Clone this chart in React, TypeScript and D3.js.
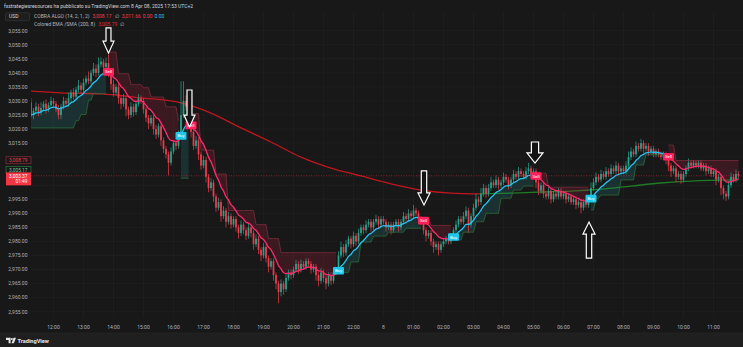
import React from 'react';
import * as d3 from 'd3';

const W = 743;
const H = 347;

// ---- candle data (5-minute bars, 11:15 -> 11:50 next day) ----
const open0 = 3029.5;
const closes = [
  3025, 3026.5, 3028, 3026, 3027.5, 3029, 3027, 3028.5, 3030, 3029, 3027, 3025,
  3028, 3030, 3029, 3031, 3033, 3031.5, 3034, 3035.5, 3034, 3036.5, 3038, 3037,
  3040, 3041.5, 3040, 3043, 3044, 3042, 3043.5, 3040, 3036, 3033, 3035, 3031,
  3029, 3031, 3027, 3025, 3028, 3026, 3029, 3031, 3030, 3027, 3024, 3022,
  3024, 3020, 3018, 3021, 3016, 3013, 3011, 3008, 3012, 3015, 3014, 3018,
  3025, 3030, 3028, 3024, 3019, 3014, 3016, 3011, 3007, 3009, 3003, 2999,
  3001, 2996, 2992, 2994, 2989, 2991, 2987, 2989, 2986, 2988, 2985, 2983,
  2986, 2984, 2982, 2985, 2983, 2979, 2981, 2977, 2975, 2978, 2974, 2971,
  2973, 2968, 2965, 2962, 2965, 2963, 2967, 2969, 2968, 2970, 2972, 2970,
  2972, 2971, 2973, 2972, 2970, 2971, 2968, 2966, 2969, 2967, 2965, 2968,
  2966, 2969, 2970, 2975, 2978, 2976, 2979, 2981, 2979, 2982, 2980, 2983,
  2985, 2984, 2986, 2987, 2985, 2987, 2988, 2986, 2988, 2987, 2985, 2986,
  2984, 2986, 2987, 2985, 2987, 2989, 2988, 2990, 2989, 2991, 2990, 2988,
  2987, 2984, 2982, 2983, 2980, 2978, 2979, 2977, 2979, 2980, 2981, 2980,
  2982, 2984, 2986, 2988, 2987, 2989, 2991, 2986, 2989, 2992, 2995, 2994,
  2997, 2999, 2997, 2999, 3001, 3000, 3002, 3000, 3001, 3003, 3002, 3000,
  3002, 3004, 3003, 3005, 3004, 3003, 3005, 3006, 3004, 3005, 3001, 2998,
  3000, 2997, 2996, 2998, 2995, 2997, 2996, 2998, 2996, 2997, 2995, 2996,
  2994, 2995, 2993, 2994, 2992, 2994, 2993, 2995, 2999, 3001, 3003, 3002,
  3004, 3003, 3005, 3004, 3006, 3005, 3007, 3005, 3006, 3005, 3007, 3010,
  3012, 3011, 3014, 3013, 3015, 3013, 3014, 3012, 3013, 3011, 3012, 3011,
  3010, 3011, 3009, 3007, 3005, 3006, 3003, 3004, 3002, 3004, 3006, 3008,
  3007, 3008, 3007, 3008, 3006, 3007, 3005, 3006, 3004, 3005, 3002, 3003,
  2999, 2997, 2996, 3000, 3003, 3002, 3004, 3003.37,
];
const wickHi = [
  1.5, 1, 1.5, 1, 2, 1, 1.5, 1, 1.5, 1, 1, 1.5,
  1, 1.5, 1, 2, 1, 1.5, 1, 2, 1, 1.5, 1, 2.5,
  1, 2, 1.5, 2.5, 1.5, 1, 2, 3, 1, 1.5, 1, 1.5,
  1, 1.5, 1, 1, 1.5, 1, 1, 1.5, 1, 1, 1, 1,
  1, 1, 1.5, 1, 1, 1, 1, 1, 1.5, 1, 1, 1.5,
  12, 7, 2, 1.5, 1, 1, 1.5, 1, 1, 1.5, 1, 1,
  1.5, 1, 1, 1.5, 1, 1.5, 1, 1.5, 1, 1, 1, 1,
  1.5, 1, 1, 1.5, 1, 1, 1.5, 1, 1, 1.5, 1, 1,
  1, 1, 1, 1, 1.5, 1, 1.5, 1, 1, 1, 1.5, 1,
  1.5, 1, 1, 1, 1, 1, 1, 1, 1.5, 1, 1, 1,
  1, 1, 1, 1.5, 2, 1, 1.5, 1, 1, 1.5, 1, 1.5,
  1, 1, 1.5, 1, 1, 1, 1.5, 1, 1, 1, 1, 1,
  1, 1, 1, 1, 1, 1.5, 1, 1.5, 1, 2, 1, 1,
  1, 1, 1, 1, 1, 1, 1, 1, 1, 1, 1, 1,
  1, 1, 1.5, 1, 1, 1.5, 1.5, 1, 1, 1.5, 2, 1,
  2, 1.5, 1, 1.5, 2, 1, 1.5, 1, 1, 1.5, 1, 1,
  1, 1.5, 1, 1.5, 1, 1, 1.5, 2, 1, 1, 1, 1,
  1, 1, 1, 1.5, 1, 1, 1, 1, 1, 1, 1, 1,
  1, 1, 1, 1, 1, 1, 1, 1, 2, 1.5, 1.5, 1,
  1.5, 1, 1.5, 1, 1.5, 1, 1.5, 1, 1, 1, 1.5, 2,
  1.5, 1, 1.5, 1, 1.5, 1, 1, 1, 1, 1, 1, 1,
  1, 1, 1, 1, 1, 1, 1, 1, 1, 1, 1, 1.5,
  1, 1, 1, 1, 1, 1, 1, 1, 1, 1, 1, 1,
  1, 1, 1, 1.5, 1.5, 1, 1.5, 1,
];
const wickLo = [
  1, 1.5, 1, 1.5, 1, 1, 1.5, 1, 1, 1.5, 1, 1.5,
  1.5, 1, 1, 1, 1.5, 1, 1, 1, 1.5, 1, 1, 1,
  1, 1, 1.5, 1, 1, 1.5, 1, 1.5, 2, 1.5, 1, 2,
  2, 1, 2.5, 1.5, 1, 1.5, 1, 1, 1, 1.5, 1.5, 2,
  1, 2, 1.5, 1, 2, 1.5, 1.5, 4.5, 1, 1, 1.5, 1,
  1, 1, 1.5, 1.5, 2, 1.5, 1, 2, 1.5, 1, 2, 1.5,
  1, 2, 1.5, 1, 2, 1, 2, 1, 1.5, 1, 1.5, 2,
  1, 1.5, 1.5, 1, 1.5, 2, 1, 1.5, 2, 1, 1.5, 2,
  1, 2, 2, 4, 1.5, 2, 1, 1, 1.5, 1, 1, 1.5,
  1, 1, 1, 1, 1.5, 1, 2, 2, 1, 1.5, 2, 1,
  1.5, 1, 1, 1, 1, 1.5, 1, 1, 1.5, 1, 1.5, 1,
  1, 1.5, 1, 1, 1.5, 1, 1, 1.5, 1, 1, 1.5, 1,
  1.5, 1, 1, 1.5, 1, 1, 1, 1, 1, 1, 1, 1.5,
  1, 1.5, 2, 1, 1.5, 2, 1, 2, 1, 1, 1, 1,
  1, 1, 1, 1, 1, 1, 1, 3, 1, 1, 1, 1.5,
  1, 1, 1.5, 1, 1, 1, 1, 1.5, 1, 1, 1, 1.5,
  1, 1, 1, 1, 1, 1, 1, 1, 1.5, 1, 2, 1.5,
  1, 1.5, 1, 1, 1.5, 1, 1, 1, 1, 1, 1.5, 1,
  1, 1, 1.5, 1, 2, 1, 1, 1, 1, 1, 1, 1,
  1, 1, 1, 1, 1, 1, 1, 1, 1, 1, 1, 1,
  1, 1, 1, 1, 1, 1.5, 1, 1.5, 1, 1, 1, 1,
  1, 1, 1.5, 2, 2, 1, 2, 1, 1.5, 1, 1, 1,
  1, 1, 1, 1, 1, 1, 1.5, 1, 1, 1, 2, 1,
  2.5, 2, 1.5, 1, 1, 1, 1, 1,
];

// ---- COBRA ALGO trend states and trailing bands ----
const segStart = [0, 31, 60, 64, 123, 157, 169, 202, 224, 255];
const segDir = ['bull', 'bear', 'bull', 'bear', 'bull', 'bear', 'bull', 'bear', 'bull', 'bear'];
const bandBars = [
  0, 18, 20, 23, 25,
  31, 35, 40, 45, 48, 54, 59,
  60,
  64, 68, 74, 79, 90, 95, 100,
  123, 128, 132, 137, 143, 150,
  157, 160,
  169, 173, 178, 182, 188, 193, 197,
  202, 207,
  224, 226, 228, 236, 242, 246,
  255, 258,
];
const bandVals = [
  3020.4, 3023, 3025.2, 3030.3, 3032.6,
  3047.4, 3039.7, 3035.8, 3034.7, 3031.4, 3027.9, 3023,
  3002.5,
  3025.5, 3012.5, 3004, 2991, 2986, 2981, 2976,
  2969, 2972.7, 2979.8, 2981.9, 2983.3, 2984.7,
  2988.5, 2985.7,
  2980.5, 2983.3, 2987, 2990, 2995.4, 2998.3, 2999.7,
  3004.3, 2999.3,
  2991.2, 2995.4, 2996.5, 3001.9, 3007.2, 3010.8,
  3014.3, 3008.79,
];
const linePeriod = 10;
const sellBars = [31, 64, 157, 202, 255];
const buyBars = [60, 123, 169, 224];

// ---- Colored EMA/SMA (200) ----
const emaBars = [0, 12, 28, 44, 60, 72, 84, 96, 108, 120, 132, 144, 156, 168, 180, 192, 204, 216, 228, 240, 252, 264, 283];
const emaVals = [3033.5, 3032.9, 3032.5, 3031.1, 3029.3, 3025.7, 3020.4, 3015.4, 3010, 3006.1, 3003.3, 3000.5, 2998.3, 2997.2, 2996.9, 2997.2, 2997.6, 2997.9, 2998.6, 2999.7, 3000.8, 3001.5, 3001.9];
const emaTurnBar = 180;

// ---- annotation arrows ----
const arrowBars = [31, 63.4, 157.2, 201.6, 223.2];
const arrowTail = [3056, 3033.9, 3005.1, 3015.4, 2974.1];
const arrowTip = [3047, 3020.7, 2993, 3007.9, 2986.9];
const arrowWidth = [11, 11, 12, 16, 12];

// ---- axes ----
const priceTicks = [3055, 3050, 3045, 3040, 3035, 3030, 3025, 3020, 3015, 3010, 3005, 3000, 2995, 2990, 2985, 2980, 2975, 2970, 2965, 2960, 2955];
const hiddenPriceTicks = [3010, 3005, 3000];
const timeLabels = ['12:00', '13:00', '14:00', '15:00', '16:00', '17:00', '18:00', '19:00', '20:00', '21:00', '22:00', '8', '01:00', '02:00', '03:00', '04:00', '05:00', '06:00', '07:00', '08:00', '09:00', '10:00', '11:00'];
const timeBars = [9, 21, 33, 45, 57, 69, 81, 93, 105, 117, 129, 141, 153, 165, 177, 189, 201, 213, 225, 237, 249, 261, 273];

const lastPrice = 3003.37;
const bandLast = 3008.79;
const lineLast = 3005.17;

const FONT = "Roboto, 'Liberation Sans', Arial, sans-serif";
const UP = '#22a68f';
const DOWN = '#f23a4b';
const BULL_LINE = '#29c3f2';
const BEAR_LINE = '#ff2a6d';

export default function App() {
  const n = closes.length;
  const x = d3.scaleLinear().domain([0, n - 1]).range([31, 738.5]);
  const y = d3.scaleLinear().domain([2955, 3055]).range([311.7, 30.7]);
  const fmt = d3.format(',.2f');

  const bars = closes.map((c, i) => {
    const o = i === 0 ? open0 : closes[i - 1];
    return { i, o, c, h: Math.max(o, c) + wickHi[i], l: Math.min(o, c) - wickLo[i] };
  });

  // EMA trend line of closes
  const k = 2 / (linePeriod + 1);
  const line: number[] = [];
  closes.forEach((c, i) => {
    line.push(i === 0 ? c : c * k + line[i - 1] * (1 - k));
  });

  // stepped band lookup
  const band = closes.map((_, i) => {
    let v = bandVals[0];
    for (let j = 0; j < bandBars.length; j++) if (bandBars[j] <= i) v = bandVals[j];
    return v;
  });

  const segs = segStart.map((s, j) => ({
    start: s,
    end: j < segStart.length - 1 ? segStart[j + 1] - 1 : n - 1,
    dir: segDir[j],
  }));

  const area = d3
    .area<number>()
    .x((i) => x(i))
    .y0((i) => y(band[i]))
    .y1((i) => y(line[i]));
  const bandLine = d3
    .line<number>()
    .x((i) => x(i))
    .y((i) => y(band[i]));
  const trendLine = d3
    .line<number>()
    .x((i) => x(i))
    .y((i) => y(line[i]))
    .curve(d3.curveMonotoneX);

  const emaPts = emaBars.map((b, j) => [b, emaVals[j]] as [number, number]);
  const turnIdx = emaBars.indexOf(emaTurnBar);
  const emaLine = d3
    .line<[number, number]>()
    .x((d) => x(d[0]))
    .y((d) => y(d[1]))
    .curve(d3.curveMonotoneX);

  const arrowPath = (j: number) => {
    const cx = x(arrowBars[j]);
    const yt = y(arrowTail[j]);
    const yp = y(arrowTip[j]);
    const hw = arrowWidth[j];
    const sw = hw * 0.45;
    const len = Math.abs(yp - yt);
    const hh = Math.min(12, len * 0.48) * (yp > yt ? 1 : -1);
    return `M${cx - sw / 2},${yt} L${cx + sw / 2},${yt} L${cx + sw / 2},${yp - hh} L${cx + hw / 2},${yp - hh} L${cx},${yp} L${cx - hw / 2},${yp - hh} L${cx - sw / 2},${yp - hh} Z`;
  };

  const chartTop = 12;
  const chartBottom = 318;

  return (
    <svg
      width={W}
      height={H}
      style={{ position: 'fixed', left: 0, top: 0, display: 'block' }}
      fontFamily={FONT}
    >
      <defs>
        <clipPath id="plot">
          <rect x={31} y={chartTop} width={W - 31} height={chartBottom - chartTop} />
        </clipPath>
      </defs>
      <rect x={0} y={0} width={W} height={H} fill="#181818" />
      <rect x={0} y={333} width={W} height={14} fill="#1f1f1f" />
      <line x1={0} x2={W} y1={333} y2={333} stroke="#2a2a2a" strokeWidth={0.6} />

      {/* grid */}
      <g stroke="#222222" strokeWidth={0.6}>
        {priceTicks.map((p) => (
          <line key={'h' + p} x1={31} x2={W} y1={y(p)} y2={y(p)} />
        ))}
        {timeBars.map((b) => (
          <line key={'v' + b} x1={x(b)} x2={x(b)} y1={chartTop} y2={chartBottom} />
        ))}
      </g>

      <g clipPath="url(#plot)">
        {/* EMA 200 */}
        <path d={emaLine(emaPts.slice(0, turnIdx + 1)) || ''} fill="none" stroke="#c0161d" strokeWidth={1.3} />
        <path d={emaLine(emaPts.slice(turnIdx)) || ''} fill="none" stroke="#1f7a25" strokeWidth={1.3} />

        {/* band fills */}
        {segs.map((s, j) => {
          const idx = d3.range(s.start, s.end + 1);
          return (
            <path
              key={'f' + j}
              d={area(idx) || ''}
              fill={s.dir === 'bull' ? 'rgba(40,150,150,0.2)' : 'rgba(170,30,60,0.24)'}
            />
          );
        })}

        {/* candles */}
        {bars.map((b) => {
          const col = b.c >= b.o ? UP : DOWN;
          const cx = x(b.i);
          const top = y(Math.max(b.o, b.c));
          const bot = y(Math.min(b.o, b.c));
          return (
            <g key={'c' + b.i}>
              <line x1={cx} x2={cx} y1={y(b.h)} y2={y(b.l)} stroke={col} strokeWidth={0.7} />
              <rect x={cx - 0.85} y={top} width={1.7} height={Math.max(0.7, bot - top)} fill={col} />
            </g>
          );
        })}

        {/* band outlines */}
        {segs.map((s, j) => {
          const idx = d3.range(s.start, s.end + 1);
          return (
            <path
              key={'b' + j}
              d={bandLine(idx) || ''}
              fill="none"
              stroke={s.dir === 'bull' ? '#2f6a3a' : '#7b2f3c'}
              strokeWidth={0.8}
            />
          );
        })}

        {/* trend line */}
        {segs.map((s, j) => {
          const idx = d3.range(s.start, Math.min(n - 1, s.end + 1) + 1);
          return (
            <path
              key={'t' + j}
              d={trendLine(idx) || ''}
              fill="none"
              stroke={s.dir === 'bull' ? BULL_LINE : BEAR_LINE}
              strokeWidth={1.3}
            />
          );
        })}

        {/* current price line */}
        <line x1={31} x2={W} y1={y(lastPrice)} y2={y(lastPrice)} stroke="#f23645" strokeWidth={0.6} strokeDasharray="1 1.5" opacity={0.8} />

        {/* signal labels */}
        {sellBars.map((b) => (
          <g key={'s' + b}>
            <rect x={x(b) - 5.5} y={y(line[b]) - 3.8} width={11} height={7.6} rx={1} fill="#ff1f5a" />
            <text x={x(b)} y={y(line[b]) + 1.6} fontSize={4.4} fill="#ffffff" textAnchor="middle">Sell</text>
          </g>
        ))}
        {buyBars.map((b) => (
          <g key={'u' + b}>
            <rect x={x(b) - 5.5} y={y(line[b]) - 3.8} width={11} height={7.6} rx={1} fill="#1ec8ea" />
            <text x={x(b)} y={y(line[b]) + 1.6} fontSize={4.4} fill="#ffffff" textAnchor="middle">Buy</text>
          </g>
        ))}

        {/* annotation arrows */}
        {arrowBars.map((_, j) => (
          <path key={'a' + j} d={arrowPath(j)} fill="#141414" stroke="#ffffff" strokeWidth={1.2} strokeLinejoin="miter" />
        ))}
      </g>

      {/* price axis labels */}
      <g fontSize={5} fill="#b2b5be" textAnchor="end">
        {priceTicks
          .filter((p) => hiddenPriceTicks.indexOf(p) < 0)
          .map((p) => (
            <text key={'pt' + p} x={27.5} y={y(p) + 1.8}>{fmt(p)}</text>
          ))}
      </g>

      {/* value boxes on the price axis */}
      <rect x={6} y={y(bandLast) - 3.8} width={25} height={7} fill="#181818" stroke="#8a2f3a" strokeWidth={0.7} />
      <text x={27.5} y={y(bandLast) + 1.5} fontSize={4.8} fill="#f23a4b" textAnchor="end">{fmt(bandLast)}</text>
      <rect x={6} y={y(lineLast) - 4.2} width={25} height={7} fill="#181818" stroke="#2f7a45" strokeWidth={0.7} />
      <text x={27.5} y={y(lineLast) + 0.8} fontSize={4.8} fill="#7fc79a" textAnchor="end">{fmt(lineLast)}</text>
      <rect x={6} y={y(lastPrice) - 3.4} width={25} height={13} fill="#f23645" />
      <text x={27.5} y={y(lastPrice) + 2.0} fontSize={4.8} fill="#ffffff" textAnchor="end">{fmt(lastPrice)}</text>
      <text x={27.5} y={y(lastPrice) + 7.6} fontSize={4.8} fill="#ffffff" textAnchor="end">01:49</text>

      {/* time axis labels */}
      <g fontSize={5} fill="#b2b5be" textAnchor="middle">
        {timeBars.map((b, j) => (
          <text key={'tl' + b} x={x(b)} y={328.5}>{timeLabels[j]}</text>
        ))}
      </g>

      {/* title */}
      <text x={4} y={7.5} fontSize={5} fill="#d1d4dc">
        fxstrategiesresources ha pubblicato su TradingView.com 8 Apr 08, 2025 17:53 UTC+2
      </text>

      {/* USD box */}
      <rect x={5.5} y={12.7} width={24} height={8} rx={1} fill="#1e1e1e" stroke="#3a3a3a" strokeWidth={0.6} />
      <text x={9} y={18.4} fontSize={5} fill="#d1d4dc">USD</text>

      {/* legend */}
      <text x={34} y={17.5} fontSize={5} fill="#b2b5be">
        COBRA ALGO (14, 2, 1, 2)
        <tspan dx={3} fill="#f23a4b">3,008.17</tspan>
        <tspan dx={3} fill="#b2b5be">∅</tspan>
        <tspan dx={3} fill="#f23a4b">3,011.66</tspan>
        <tspan dx={2} fill="#f23a4b">0.00</tspan>
        <tspan dx={2} fill="#29c3f2">0.00</tspan>
      </text>
      <text x={34} y={25.5} fontSize={5} fill="#b2b5be">
        Colored EMA /SMA (200, 8)
        <tspan dx={3} fill="#e0262d">3,005.79</tspan>
        <tspan dx={3} fill="#b2b5be">∅</tspan>
      </text>

      {/* TradingView logo */}
      <g fill="#e8e8e8">
        <path d="M6,337.8 h4.6 v5.4 h-2 v-3.3 h-2.6 z" />
        <circle cx={11.9} cy={338.9} r={1} />
        <path d="M13.6,337.8 h2.4 l-2.2,5.4 h-2.3 z" />
        <text x={17.5} y={342.8} fontSize={5.6} fontWeight="bold">TradingView</text>
      </g>
    </svg>
  );
}
